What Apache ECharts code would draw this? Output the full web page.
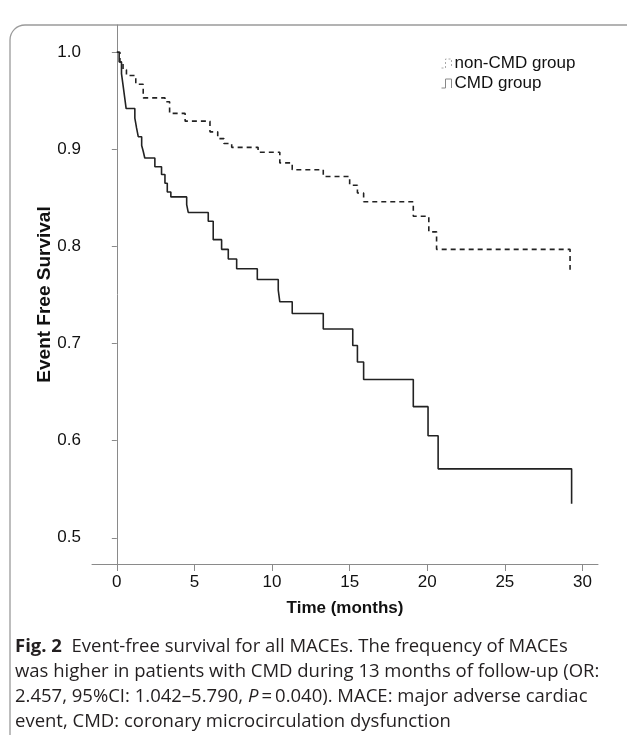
<!DOCTYPE html>
<html>
<head>
<meta charset="utf-8">
<script src="https://cdn.jsdelivr.net/npm/echarts@6/dist/echarts.min.js"></script>
<style>
html,body{margin:0;padding:0;background:#fff}
#chart{width:627px;height:735px}
</style>
</head>
<body>
<div id="chart"></div>
<script>
// Kaplan-Meier steps (months, survival)
const cmdTime = [0, 0.15, 0.3, 0.4, 0.5, 0.6, 1.16, 1.27, 1.38, 1.6, 1.7, 1.8, 2.45, 2.88, 3.1, 3.25, 3.48, 4.5, 4.6, 5.89, 6.21, 6.75, 7.18, 7.72, 9.05, 10.4, 10.5, 11.3, 13.3, 15.2, 15.5, 15.9, 19.1, 20.05, 20.7, 29.3]
const cmdSurv = [1.0, 0.99, 0.978, 0.966, 0.954, 0.942, 0.932, 0.922, 0.913, 0.904, 0.898, 0.891, 0.882, 0.874, 0.865, 0.856, 0.851, 0.843, 0.835, 0.826, 0.807, 0.797, 0.787, 0.777, 0.766, 0.755, 0.743, 0.731, 0.715, 0.698, 0.681, 0.663, 0.635, 0.605, 0.571, 0.535]

const nonCmdTime = [0, 0.2, 0.4, 0.62, 1.22, 1.7, 3.1, 3.4, 4.4, 6.0, 6.5, 6.9, 7.4, 9.1, 10.5, 11.3, 13.3, 15.0, 15.5, 15.9, 19.1, 20.1, 20.6, 29.2]
const nonCmdSurv = [1.0, 0.99, 0.982, 0.976, 0.967, 0.953, 0.949, 0.937, 0.929, 0.918, 0.911, 0.906, 0.902, 0.897, 0.886, 0.879, 0.872, 0.863, 0.855, 0.846, 0.831, 0.815, 0.797, 0.776]

const xTicks = [0, 5, 10, 15, 20, 25, 30]
const yTicks = [0.5, 0.6, 0.7, 0.8, 0.9, 1.0]

const groupNames = ['non-CMD group', 'CMD group']

const captionLines = [
    '{b|Fig. 2}  Event-free survival for all MACEs. The frequency of MACEs',
    'was higher in patients with CMD during 13 months of follow-up (OR:',
    '2.457, 95%CI: 1.042\u20135.790, {i|P}\u2009=\u20090.040). MACE: major adverse cardiac',
    'event, CMD: coronary microcirculation dysfunction'
]

const font = '"Liberation Sans", Arial, sans-serif'
const capFont = '"Open Sans", "Noto Sans", sans-serif'
const capSize = 18.5

let chart = echarts.init(document.getElementById('chart'))

const pairs = (ts, vs) => ts.map((t, i) => [t, vs[i]])

const frameStyle = {fill: 'none', stroke: '#9a9a9a', lineWidth: 1.3}
const stepIcon = 'path://M0,10L4,10L4,1L10,1L10,10'

let option = {
    animation: false,
    backgroundColor: '#fff',
    grid: {left: 92, top: 25, right: 29, bottom: 171, containLabel: false},
    legend: {
        orient: 'vertical',
        left: 436,
        top: 50,
        itemWidth: 14,
        itemHeight: 9,
        itemGap: 3,
        textStyle: {fontFamily: font, fontSize: 17, lineHeight: 17, color: '#111', padding: [0, 0, 0, -4]},
        data: [
            {name: groupNames[0], icon: stepIcon,
                itemStyle: {color: 'transparent', borderColor: '#aaa', borderWidth: 1, borderType: [2, 2]}},
            {name: groupNames[1], icon: stepIcon,
                itemStyle: {color: 'transparent', borderColor: '#888', borderWidth: 1}}
        ]
    },
    xAxis: {
        type: 'value',
        min: -1.6,
        max: 31,
        name: 'Time (months)',
        nameLocation: 'middle',
        nameGap: 36,
        nameTextStyle: {fontFamily: font, fontSize: 17, fontWeight: 'bold', color: '#111'},
        axisLine: {show: true, lineStyle: {color: '#8a8a8a', width: 1}},
        axisTick: {show: true, length: 7, lineStyle: {color: '#8a8a8a'}, customValues: xTicks},
        axisLabel: {fontFamily: font, fontSize: 17, color: '#111', margin: 10, customValues: xTicks},
        splitLine: {show: false}
    },
    yAxis: {
        type: 'value',
        min: 0.473,
        max: 1.028,
        name: 'Event Free Survival',
        nameLocation: 'middle',
        nameGap: 38,
        nameMoveOverlap: false,
        nameTextStyle: {fontFamily: font, fontSize: 19, fontWeight: 'bold', color: '#111'},
        axisLine: {show: true, lineStyle: {color: '#8a8a8a', width: 1}},
        axisTick: {show: true, length: 5, lineStyle: {color: '#8a8a8a'}, customValues: yTicks},
        axisLabel: {fontFamily: font, fontSize: 17, color: '#111', margin: 11, customValues: yTicks,
            formatter: v => v.toFixed(1)},
        splitLine: {show: false}
    },
    series: [
        {
            name: groupNames[0],
            type: 'line',
            step: 'end',
            symbol: 'none',
            lineStyle: {color: '#222', width: 1.6, type: [5, 4]},
            data: pairs(nonCmdTime, nonCmdSurv)
        },
        {
            name: groupNames[1],
            type: 'line',
            step: 'end',
            symbol: 'none',
            lineStyle: {color: '#222', width: 1.6},
            data: pairs(cmdTime, cmdSurv)
        }
    ],
    graphic: [
        {type: 'line', shape: {x1: 10, y1: 735, x2: 10, y2: 40}, style: frameStyle},
        {type: 'arc', shape: {cx: 25, cy: 40, r: 15, startAngle: Math.PI, endAngle: Math.PI * 1.5}, style: frameStyle},
        {type: 'line', shape: {x1: 25, y1: 25, x2: 627, y2: 25}, style: frameStyle}
    ].concat(captionLines.map((line, i) => ({
        type: 'text',
        left: 15,
        top: 637 + i * 25,
        style: {
            text: line,
            fontFamily: capFont,
            fontSize: capSize,
            fill: '#231f20',
            rich: {
                b: {fontFamily: capFont, fontSize: capSize, fontWeight: 'bold', fill: '#231f20'},
                i: {fontFamily: capFont, fontSize: capSize, fontStyle: 'italic', fill: '#231f20'}
            }
        }
    })))
}

chart.setOption(option)
</script>
</body>
</html>
